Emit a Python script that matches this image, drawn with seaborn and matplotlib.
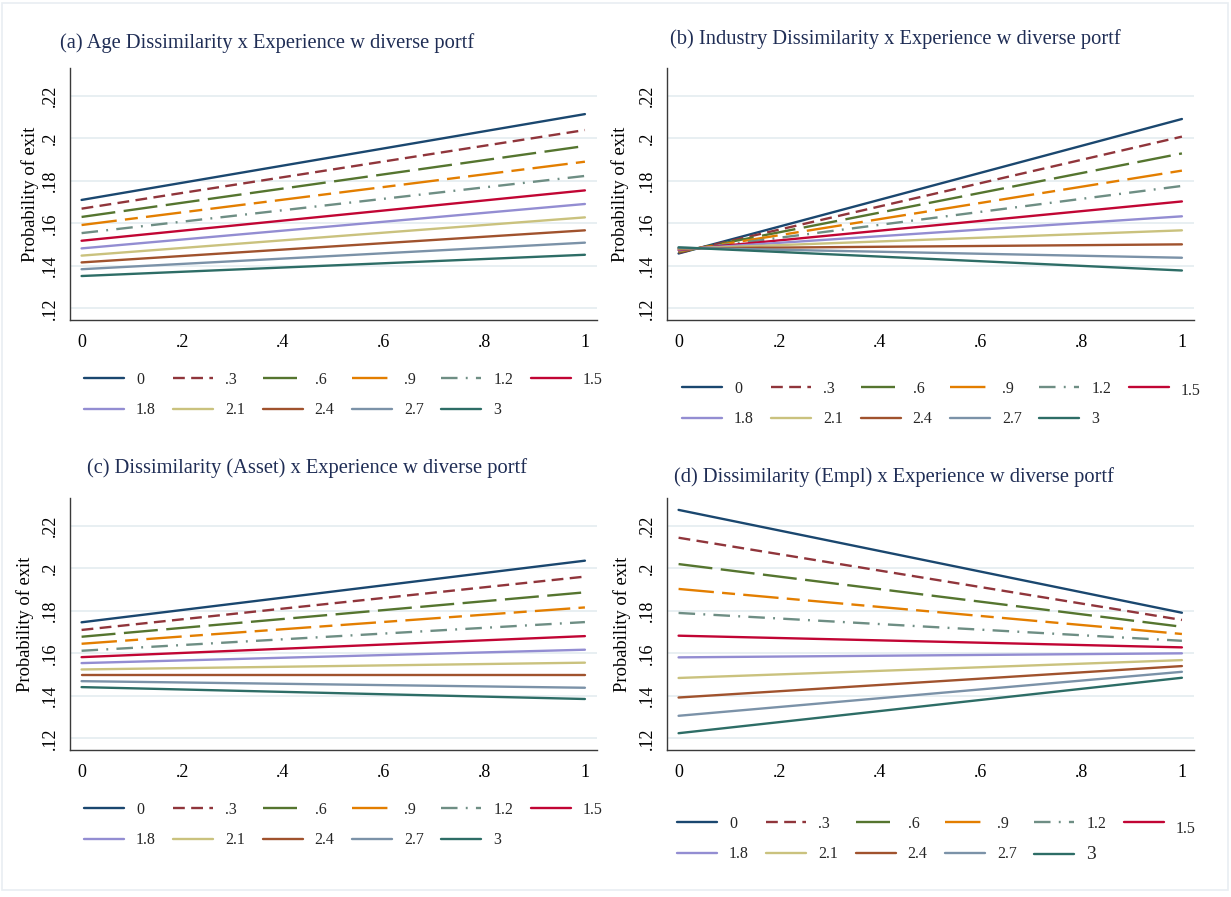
import matplotlib
matplotlib.use("Agg")
import matplotlib.pyplot as plt
import matplotlib.transforms as mtransforms
import numpy as np
import pandas as pd
import seaborn as sns
from matplotlib.patches import Rectangle

# Levels of "Experience w diverse portf" (one line per level)
levels = ["0", ".3", ".6", ".9", "1.2", "1.5", "1.8", "2.1", "2.4", "2.7", "3"]

# Dissimilarity value on the x axis where predictions are evaluated
x_points = [0.0, 1.0]

# Predicted probability of exit at dissimilarity = 0 and = 1, per level
age_at0 = [0.1710, 0.1669, 0.1630, 0.1592, 0.1554, 0.1518, 0.1482, 0.1448, 0.1416, 0.1384, 0.1352]
age_at1 = [0.2114, 0.2039, 0.1964, 0.1890, 0.1823, 0.1755, 0.1691, 0.1628, 0.1567, 0.1509, 0.1452]

ind_at0 = [0.1458, 0.1461, 0.1465, 0.1468, 0.1471, 0.1474, 0.1477, 0.1480, 0.1482, 0.1485, 0.1487]
ind_at1 = [0.2091, 0.2008, 0.1929, 0.1848, 0.1776, 0.1703, 0.1633, 0.1567, 0.1501, 0.1438, 0.1378]

asset_at0 = [0.1746, 0.1710, 0.1678, 0.1645, 0.1612, 0.1582, 0.1554, 0.1524, 0.1496, 0.1469, 0.1441]
asset_at1 = [0.2036, 0.1961, 0.1887, 0.1816, 0.1747, 0.1681, 0.1617, 0.1556, 0.1496, 0.1438, 0.1385]

empl_at0 = [0.2275, 0.2144, 0.2020, 0.1903, 0.1790, 0.1683, 0.1581, 0.1484, 0.1392, 0.1306, 0.1224]
empl_at1 = [0.1791, 0.1757, 0.1725, 0.1691, 0.1659, 0.1628, 0.1600, 0.1568, 0.1540, 0.1513, 0.1485]

titles = [
    "(a) Age Dissimilarity x Experience w diverse portf",
    "(b) Industry Dissimilarity x Experience w diverse portf",
    "(c) Dissimilarity (Asset) x Experience w diverse portf",
    "(d) Dissimilarity (Empl) x Experience w diverse portf",
]

y_ticks = [0.12, 0.14, 0.16, 0.18, 0.20, 0.22]
y_tick_labels = [".12", ".14", ".16", ".18", ".2", ".22"]
x_ticks = [0, 0.2, 0.4, 0.6, 0.8, 1.0]
x_tick_labels = ["0", ".2", ".4", ".6", ".8", "1"]

colors = ["#1a476f", "#90353b", "#55752f", "#e37e00", "#6e8e84", "#c10534",
          "#938dd2", "#cac27e", "#a0522d", "#7b92a8", "#2d6d66"]
dash_styles = ["", (5, 2.7), (14.4, 3.6), (15, 3.5, 5.5, 3.5), (7, 3.5, 0.8, 3.5),
               "", "", "", "", "", ""]
palette = dict(zip(levels, colors))
dashes = dict(zip(levels, dash_styles))

panel_values = [(age_at0, age_at1), (ind_at0, ind_at1),
                (asset_at0, asset_at1), (empl_at0, empl_at1)]

rows = []
for p, (v0, v1) in enumerate(panel_values):
    for lev, a, b in zip(levels, v0, v1):
        rows.append({"panel": p, "level": lev, "x": x_points[0], "prob": a})
        rows.append({"panel": p, "level": lev, "x": x_points[1], "prob": b})
df = pd.DataFrame(rows)

sns.set_style("white")
plt.rcParams["font.family"] = ["Liberation Serif", "DejaVu Serif"]

W, H = 1231, 897
fig = plt.figure(figsize=(W / 100, H / 100), dpi=100)
fig.patch.set_facecolor("white")

# faint frame around the graph region
fig.add_artist(Rectangle((2 / W, 1 - 890 / H), 1226 / W, 887 / H,
                         transform=fig.transFigure, fill=False,
                         edgecolor="#e9eef2", linewidth=1.2))

# layout in pixels: (left, top, right, bottom)
boxes = [(70, 68, 597, 320), (667, 68, 1194, 320),
         (70, 498, 597, 750), (667, 498, 1194, 750)]
title_pos = [(60, 43), (670, 39), (87, 468), (674, 477)]
legend_pos = [(84, 372), (682, 381), (84, 802), (677, 816)]
ylabel_off = [31, 38, 36, 36]
# vertical nudge (px, downward) of the "1.5" legend label in each panel
nudge_15 = [0, 2, 0, 5]

title_color = "#1f2d55"

# legend filled column by column: reorder so entries read across rows of six
ncol = 6
order = []
for c in range(ncol):
    order.append(c)
    if c + ncol < len(levels):
        order.append(c + ncol)

for p in range(4):
    l, t, r, b = boxes[p]
    ax = fig.add_axes([l / W, 1 - b / H, (r - l) / W, (b - t) / H])
    sub = df[df["panel"] == p]
    sns.lineplot(data=sub, x="x", y="prob", hue="level", style="level",
                 hue_order=levels, style_order=levels, palette=palette,
                 dashes=dashes, linewidth=1.7, errorbar=None, sort=False,
                 legend=False, ax=ax)

    ax.set_xlim(-0.023, 1.024)
    ax.set_ylim(0.1145, 0.2331)
    ax.set_yticks(y_ticks, labels=y_tick_labels)
    ax.set_xticks(x_ticks, labels=x_tick_labels)
    ax.yaxis.grid(True, color="#e6eef1", linewidth=1.3)
    ax.xaxis.grid(False)
    ax.set_axisbelow(True)
    for s in ["top", "right"]:
        ax.spines[s].set_visible(False)
    for s in ["left", "bottom"]:
        ax.spines[s].set_color("#3a3a3a")
        ax.spines[s].set_linewidth(1.0)
    ax.tick_params(axis="both", direction="out", length=5, width=1,
                   color="#3a3a3a", labelsize=13, labelcolor="black")
    ax.tick_params(axis="y", labelrotation=90, pad=3)
    ax.tick_params(axis="x", pad=5)
    for lab in ax.get_yticklabels():
        lab.set_va("center")

    ax.set_xlabel("")
    ax.set_ylabel("Probability of exit", fontsize=13.3, color="black")
    ax.yaxis.set_label_coords(-ylabel_off[p] / (r - l), 0.5)

    tx, ty = title_pos[p]
    fig.text(tx / W, 1 - ty / H, titles[p], ha="left", va="center",
             fontsize=14.8, color=title_color)

    lines = ax.get_lines()[:len(levels)]
    handles = [lines[i] for i in order]
    labels = [levels[i] for i in order]
    lx, ly = legend_pos[p]
    leg = ax.legend(handles, labels, loc="upper left",
                    bbox_to_anchor=(lx / W, 1 - ly / H), bbox_transform=fig.transFigure,
                    ncol=ncol, frameon=False, borderpad=0, borderaxespad=0,
                    handlelength=2.5, handletextpad=0.75, columnspacing=1.1,
                    labelspacing=0.9, fontsize=11.5)
    for txt in leg.get_texts():
        if txt.get_text() == "1.5" and nudge_15[p]:
            shift = mtransforms.ScaledTranslation(0, -nudge_15[p] / 100,
                                                  fig.dpi_scale_trans)
            txt.set_transform(txt.get_transform() + shift)
        if txt.get_text() == "3" and p == 3:
            txt.set_fontsize(14)

fig.savefig("out.png", dpi=100, facecolor="white")
